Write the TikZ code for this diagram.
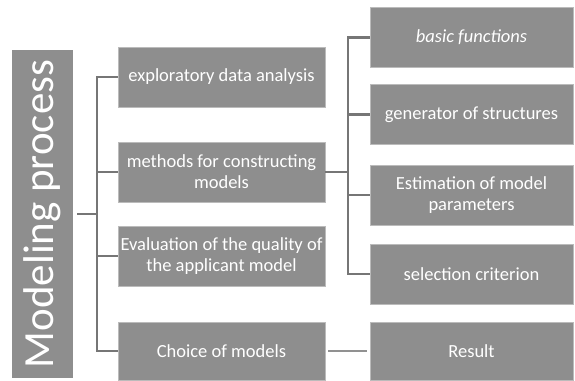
\documentclass[tikz,border=0pt]{standalone}
\usepackage{fontspec}
\setmainfont{Carlito}
\definecolor{boxgray}{RGB}{142,142,142}
\definecolor{linegray}{RGB}{118,118,118}

\tikzset{
    stage/.style={fill=boxgray, draw=boxgray!60, text=white, align=center,
        minimum width=207pt, minimum height=60pt, inner sep=1pt,
        font=\fontsize{18.5}{21}\selectfont},
    part/.style={stage, minimum width=203pt},
    tie/.style={color=linegray, line width=2.2pt}
}

\begin{document}
\begin{tikzpicture}[x=1pt, y=-1pt]
    \useasboundingbox (0,0) rectangle (575,380);

    \node[fill=boxgray, text=white, minimum width=328pt, minimum height=61pt,
        rotate=90, font=\fontsize{43}{46}\selectfont] (mp) at (42.5,214)
        {Modeling process};

    \node[stage] (m1) at (221.5,77) {exploratory data analysis};
    \node[stage] (m2) at (221.5,172) {methods for constructing\\models};
    \node[stage] (m3) at (221.5,256) {Evaluation of the quality of\\the applicant model};
    \node[stage, minimum height=58pt] (m4) at (221.5,351) {Choice of models};

    \node[part] (r1) at (471.5,37.5) {\itshape basic functions};
    \node[part] (r2) at (471.5,114.5) {generator of structures};
    \node[part] (r3) at (471.5,195) {Estimation of model\\parameters};
    \node[part] (r4) at (471.5,274) {selection criterion};
    \node[part, minimum height=58pt] (r5) at (471.5,351) {Result};

    \draw[tie] ([xshift=4pt]mp.south) -- ++(20,0) coordinate (fork);
    \foreach \m in {m1,m2,m3,m4}
        \draw[tie] (fork) |- (\m.west);

    \draw[tie] (m2.east) -- ++(23,0) coordinate (split);
    \foreach \r in {r1,r2,r3,r4}
        \draw[tie] (split) |- (\r.west);

    \draw[tie, color=linegray!80] ([xshift=3pt]m4.east) -- ([xshift=-3pt]r5.west);
\end{tikzpicture}
\end{document}
